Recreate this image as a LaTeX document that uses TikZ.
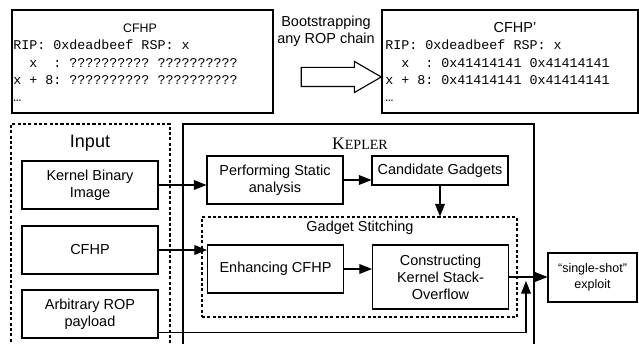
\documentclass[tikz,border=0pt]{standalone}
\usepackage{fontspec}
\setmainfont{Liberation Sans}
\setmonofont{Liberation Mono}
\newfontfamily\keplerfont{Liberation Serif}
\usetikzlibrary{positioning,arrows.meta,shapes.arrows}

\begin{document}
\begin{tikzpicture}[font=\fontsize{10.3}{12}\selectfont]
  \tikzstyle{blk}=[draw, thick, minimum width=3.4cm, minimum height=1.2cm,
  align=center, inner sep=1pt]
  \tikzstyle{grp}=[draw, thick, dash pattern=on 2.2pt off 1.6pt, inner sep=0pt]
  \tikzstyle{heapdump}=[anchor=north west, inner sep=0pt, align=left,
  font=\ttfamily\fontsize{9.5}{12.3}\selectfont]
  \tikzstyle{arr}=[thick, -{Triangle[length=9pt,width=7pt]}]
  \useasboundingbox (0,0) rectangle (15.975,8.575);

  % heap state before and after the bootstrapping step
  \node[draw, thick, minimum width=6.525cm, minimum height=2.575cm] (cfhp) at (3.5625,7.0375) {};
  \node[font=\fontsize{8.8}{10}\selectfont] (cfhptitle) at (3.5,7.875) {CFHP};
  \node[heapdump] (cfhpdump) at (0.325,7.575)
  {RIP: 0xdeadbeef RSP: x\\
   ~~x~~: ?????????? ??????????\\
   x + 8: ?????????? ??????????\\
   …};

  \node[draw, thick, minimum width=6.4cm, minimum height=2.575cm] (cfhpp) at (12.75,7.0375) {};
  \node (cfhpptitle) at (12.875,7.875) {CFHP’};
  \node[heapdump] (cfhppdump) at (9.625,7.575)
  {RIP: 0xdeadbeef RSP: x\\
   ~~x~~: 0x41414141 0x41414141\\
   x + 8: 0x41414141 0x41414141\\
   …};

  \node[align=center, font=\fontsize{10.3}{12.6}\selectfont] (bootlabel) at (8.15,7.79)
  {Bootstrapping\\any ROP chain};
  \node[draw, thick, single arrow, single arrow tip angle=60,
  single arrow head extend=0.15cm, minimum height=2cm,
  inner xsep=0pt, inner ysep=0.225cm] (boot) at (8.325,6.65) {};

  % inputs
  \node[grp, minimum width=3.975cm, minimum height=5.65cm] (input) at (2.2625,2.65) {};
  \node[font=\fontsize{12.8}{14}\selectfont] (inputlabel) at (2.25,5.0) {Input};
  \node[blk] (kernel) at (2.25,3.95) {Kernel Binary\\Image};
  \node[blk] (cfhpin) at (2.25,2.325) {CFHP};
  \node[blk] (payload) at (2.25,0.725) {Arbitrary ROP\\payload};

  % kepler
  \node[draw, thick, minimum width=8.775cm, minimum height=5.65cm] (kepler) at (8.9625,2.65) {};
  \node (keplerlabel) at (9.0,4.97)
  {\keplerfont\fontsize{12.5}{14}\selectfont K\fontsize{10}{12}\selectfont EPLER};
  \node[blk] (perf) at (6.875,4.075) {Performing Static\\analysis};
  \node[blk, minimum height=0.725cm] (cand) at (11.0,4.3125) {Candidate Gadgets};

  \node[grp, minimum width=7.875cm, minimum height=2.5cm] (stitch) at (8.9875,1.9) {};
  \node (stitchlabel) at (9.0,2.875) {Gadget Stitching};
  \node[blk] (enh) at (6.8875,1.85) {Enhancing CFHP};
  \node[blk, minimum height=1.6cm] (cons) at (11.0125,1.65) {Constructing\\Kernel Stack-\\Overflow};

  \node[blk, minimum width=2.225cm, minimum height=1.225cm,
  font=\fontsize{8.9}{11.5}\selectfont] (exploit) at (14.8125,1.6375)
  {“single-shot”\\exploit};

  \path (kernel.east) edge[arr] (perf.west |- kernel.east);
  \path (perf.east) edge[arr] (cand.west |- perf.east);
  \path (cand.south) edge[arr] (cand.south |- stitch.north);
  \path (cfhpin.east) edge[arr] (enh.west |- cfhpin.east);
  \path (enh.east) edge[arr] (cons.west |- enh.east);
  \path (cons.east) edge[arr] (cons.east -| exploit.west);

  \coordinate (join) at (13.15,1.55);
  \draw[arr] ([yshift=0.15cm]payload.south east) -| (join);
\end{tikzpicture}
\end{document}
